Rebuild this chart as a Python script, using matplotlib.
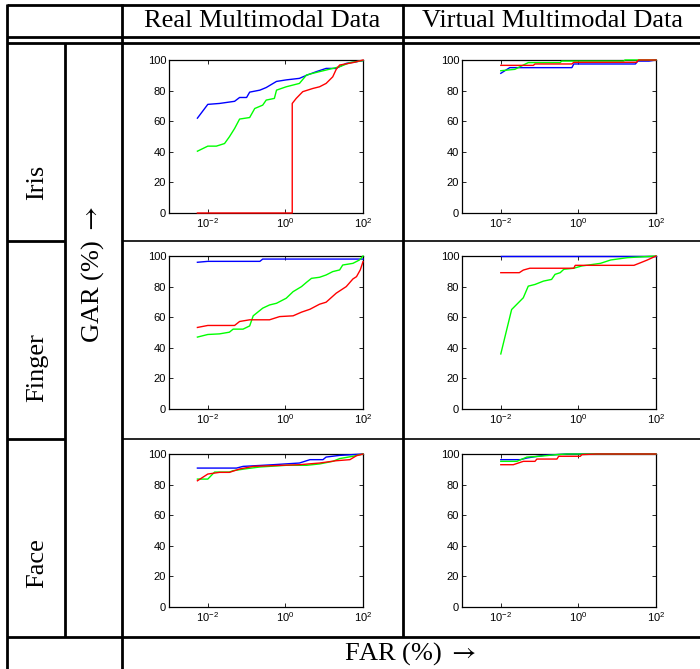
import matplotlib
matplotlib.use("Agg")
import matplotlib.pyplot as plt
from matplotlib.ticker import NullLocator, FixedLocator

plt.rcParams['font.family'] = ['Liberation Sans', 'DejaVu Sans']
plt.rcParams['mathtext.fontset'] = 'stix'

# column / row headings
col_titles = ["Real Multimodal Data", "Virtual Multimodal Data"]
row_titles = ["Iris", "Finger", "Face"]
y_label = r"GAR (%) $\rightarrow$"
x_label = r"FAR (%) $\rightarrow$"

# ROC curves: FAR (%) and GAR (%)
# Iris, real
iris_real_blue_far = [0.0054, 0.010, 0.020, 0.049, 0.066, 0.10, 0.12, 0.22, 0.32, 0.59, 1.05, 2.3, 3.5, 6.3, 11.2, 20, 37, 100]
iris_real_blue_gar = [62, 71, 71.6, 73, 75.5, 75.5, 79, 80.3, 82, 86, 87, 88, 90, 92.4, 94.5, 94.5, 97.8, 99.6]
iris_real_green_far = [0.0054, 0.010, 0.0166, 0.027, 0.036, 0.049, 0.066, 0.12, 0.162, 0.26, 0.32, 0.52, 0.59, 1.05, 2.3, 3.5, 5.1, 7.6, 16.6, 25, 46, 100]
iris_real_green_gar = [40.4, 43.7, 43.7, 45.4, 49.8, 55.2, 61.4, 62.4, 68.3, 70.5, 73.8, 74.9, 80.3, 82.5, 84.7, 90.2, 91.3, 92.4, 94.5, 95.6, 98.3, 99.6]
iris_real_red_far = [0.0054, 1.5, 1.5, 1.9, 2.8, 5.1, 7.6, 11.2, 16.6, 20.4, 25, 55, 100]
iris_real_red_gar = [0, 0, 71.6, 74.9, 79.3, 81.4, 82.5, 84.7, 89, 93.9, 96.7, 98.3, 100]
# Iris, virtual
iris_virt_blue_far = [0.010, 0.017, 0.68, 0.76, 29.5, 34, 66, 100]
iris_virt_blue_gar = [91.3, 95, 95, 97.4, 97.4, 99.3, 99.3, 100]
iris_virt_green_far = [0.010, 0.023, 0.051, 0.34, 0.37, 14.8, 15.8, 100]
iris_virt_green_gar = [93, 93.9, 98.3, 98.3, 99.3, 99.3, 100, 100]
iris_virt_red_far = [0.010, 0.069, 0.076, 0.68, 0.76, 31.6, 35.5, 100]
iris_virt_red_gar = [96.5, 96.5, 97.4, 97.4, 98.5, 98.5, 100, 100]
# Finger, real
finger_real_blue_far = [0.0054, 0.010, 0.22, 0.26, 100]
finger_real_blue_gar = [95.9, 96.5, 96.5, 98, 98]
finger_real_green_far = [0.0054, 0.010, 0.020, 0.036, 0.045, 0.081, 0.12, 0.148, 0.26, 0.39, 0.59, 1.05, 1.58, 2.6, 3.5, 4.7, 7.6, 11.2, 16.6, 25, 30, 55, 81, 100]
finger_real_green_gar = [47, 48.7, 49.1, 50.2, 52.2, 52.2, 54.3, 60.9, 65.9, 68, 69.1, 72.4, 76.7, 80, 82.8, 85.4, 86.1, 87.6, 89.8, 90.9, 94.1, 95.2, 97.4, 100]
finger_real_red_far = [0.0054, 0.010, 0.049, 0.066, 0.12, 0.39, 0.71, 1.58, 2.6, 4.3, 7.6, 11.2, 20.4, 37, 55, 68, 85, 100]
finger_real_red_gar = [53.3, 54.6, 54.6, 57.2, 58.3, 58.3, 60.4, 60.9, 63.3, 65.2, 68.5, 69.8, 75.7, 80, 85, 86.5, 90.9, 96.3]
# Finger, virtual
finger_virt_blue_far = [0.010, 100]
finger_virt_blue_gar = [100, 100]
finger_virt_green_far = [0.010, 0.019, 0.038, 0.051, 0.076, 0.126, 0.204, 0.25, 0.34, 0.42, 0.76, 1.23, 3.7, 6.8, 18.2, 100]
finger_virt_green_gar = [36, 65, 72.7, 80.3, 81.4, 83.6, 84.7, 88, 89.1, 91.3, 92, 93.5, 95.2, 97.4, 98.9, 100]
finger_virt_red_far = [0.010, 0.030, 0.038, 0.056, 0.76, 0.83, 27, 40, 60, 100]
finger_virt_red_gar = [89.1, 89.1, 90.8, 92, 92, 93.9, 93.9, 95.6, 97.4, 100]
# Face, real
face_real_blue_far = [0.0054, 0.055, 0.081, 0.48, 2.3, 4.3, 9.3, 11.2, 25, 100]
face_real_blue_gar = [90.8, 90.8, 91.9, 93, 94.1, 96.3, 96.3, 98, 99.1, 100]
face_real_green_far = [0.0054, 0.010, 0.015, 0.036, 0.045, 0.10, 0.22, 1.05, 3.5, 7.6, 16.6, 25, 55, 100]
face_real_green_gar = [83.6, 83.6, 88.2, 88.2, 89.1, 90.4, 91.5, 92.6, 92.6, 93.5, 95.2, 97, 98.5, 100]
face_real_red_far = [0.0054, 0.010, 0.020, 0.036, 0.066, 0.148, 0.48, 2.3, 7.6, 20.4, 46, 68, 100]
face_real_red_gar = [82.5, 86.9, 88, 88, 90.2, 91.9, 92.4, 93, 94.1, 95.6, 96.3, 98.9, 100]
# Face, virtual
face_virt_blue_far = [0.010, 0.032, 0.047, 0.126, 0.50, 100]
face_virt_blue_gar = [96.3, 96.3, 97.4, 99.1, 100, 100]
face_virt_green_far = [0.010, 0.026, 0.047, 0.10, 0.28, 0.50, 100]
face_virt_green_gar = [95.2, 95.2, 98, 98.5, 99.6, 100, 100]
face_virt_red_far = [0.010, 0.021, 0.038, 0.076, 0.085, 0.28, 0.31, 1.12, 1.23, 3.0, 100]
face_virt_red_gar = [93, 93, 95.2, 95.2, 96.7, 96.7, 98.5, 98.5, 99.6, 100, 100]

panels = [
    [[(iris_real_blue_far, iris_real_blue_gar), (iris_real_green_far, iris_real_green_gar), (iris_real_red_far, iris_real_red_gar)],
     [(iris_virt_blue_far, iris_virt_blue_gar), (iris_virt_green_far, iris_virt_green_gar), (iris_virt_red_far, iris_virt_red_gar)]],
    [[(finger_real_blue_far, finger_real_blue_gar), (finger_real_green_far, finger_real_green_gar), (finger_real_red_far, finger_real_red_gar)],
     [(finger_virt_blue_far, finger_virt_blue_gar), (finger_virt_green_far, finger_virt_green_gar), (finger_virt_red_far, finger_virt_red_gar)]],
    [[(face_real_blue_far, face_real_blue_gar), (face_real_green_far, face_real_green_gar), (face_real_red_far, face_real_red_gar)],
     [(face_virt_blue_far, face_virt_blue_gar), (face_virt_green_far, face_virt_green_gar), (face_virt_red_far, face_virt_red_gar)]],
]
colors = ['#0000ff', '#00ff00', '#ff0000']

W, H = 700, 669
fig = plt.figure(figsize=(7, 6.69), dpi=100)

# background axes in pixel coordinates for the table
bg = fig.add_axes([0, 0, 1, 1])
bg.set_xlim(0, W)
bg.set_ylim(H, 0)
bg.axis('off')

lw = 2.0
def hline(y, x0, x1, w=lw):
    bg.plot([x0, x1], [y, y], color='black', lw=w, solid_capstyle='butt')

def vline(x, y0, y1, w=lw):
    bg.plot([x, x], [y0, y1], color='black', lw=w, solid_capstyle='butt')

hline(5, 7, 700)
hline(37, 7, 700)
hline(43, 7, 700)
hline(241, 7, 65)
hline(241, 122, 700, 1.2)
hline(439, 7, 65)
hline(439, 122, 700, 1.2)
hline(637, 7, 700)
vline(7, 4, 669)
vline(122, 4, 669)
vline(403, 4, 637)
vline(65, 43, 637)

serif = ['Liberation Serif', 'DejaVu Serif']
bg.text(262, 21, col_titles[0], family=serif, fontsize=19, ha='center', va='center')
bg.text(552, 21, col_titles[1], family=serif, fontsize=19, ha='center', va='center')
for yc, t in zip([182, 368, 563], row_titles):
    bg.text(37, yc, t, family=serif, fontsize=19, ha='center', va='center', rotation=90)
bg.text(93, 275, y_label, family=serif, fontsize=19, ha='center', va='center', rotation=90)
bg.text(410, 654, x_label, family=serif, fontsize=19, ha='center', va='center')

lefts = [169, 462]
tops = [60, 256, 454]
aw, ah = 194, 153

for r in range(3):
    for c in range(2):
        ax = fig.add_axes([lefts[c] / W, 1 - (tops[r] + ah) / H, aw / W, ah / H])
        for (far, gar), col in zip(panels[r][c], colors):
            ax.plot(far, gar, color=col, lw=1.0, clip_on=False, zorder=3)
        ax.set_xscale('log')
        ax.set_xlim(1e-3, 1e2)
        ax.set_ylim(0, 100)
        ax.xaxis.set_major_locator(FixedLocator([1e-2, 1e0, 1e2]))
        ax.xaxis.set_minor_locator(NullLocator())
        ax.set_yticks([0, 20, 40, 60, 80, 100])
        ax.tick_params(direction='in', top=True, right=True, length=3, width=0.6,
                       labelsize=8, pad=2)
        for s in ax.spines.values():
            s.set_linewidth(0.9)

fig.savefig('out.png', dpi=100)
